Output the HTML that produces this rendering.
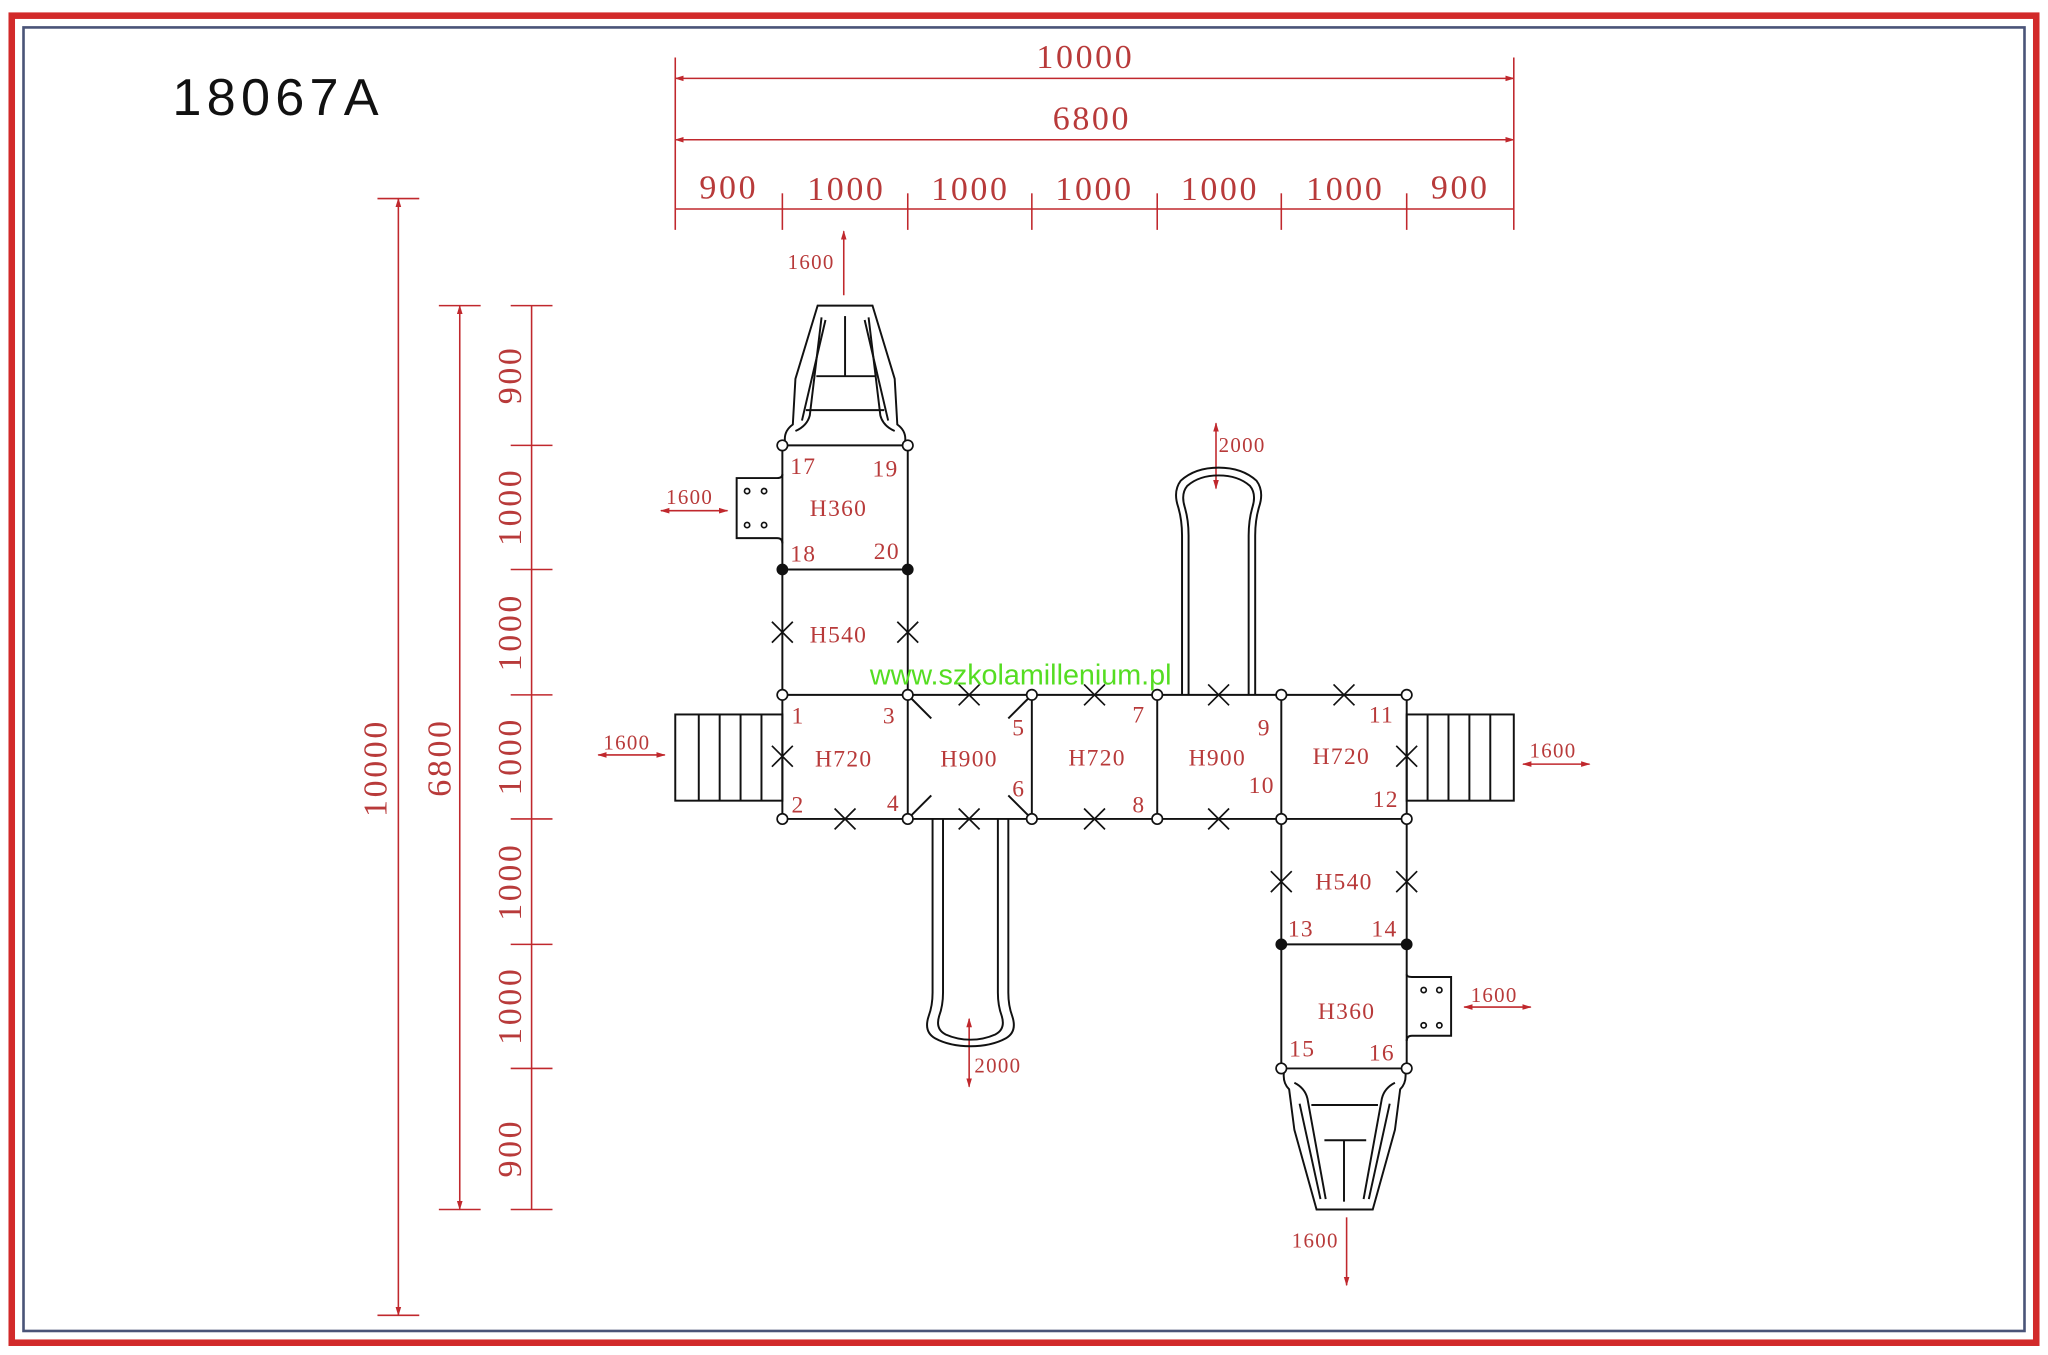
<!DOCTYPE html>
<html><head><meta charset="utf-8"><style>
html,body{margin:0;padding:0;background:#fff;}
svg{display:block;}
text{font-family:"Liberation Serif",serif;fill:#b83a3a;}
</style></head><body>
<svg width="2048" height="1355" viewBox="0 0 1568 1037.4" preserveAspectRatio="none" xmlns="http://www.w3.org/2000/svg">
<defs>
<marker id="a" viewBox="0 0 10 10" refX="9" refY="5" markerWidth="6" markerHeight="6" orient="auto-start-reverse"><path d="M0,2 L10,5 L0,8 z" fill="#c0282d"/></marker>
</defs>
<rect x="0" y="0" width="1568" height="1037.4" fill="#fff"/>
<rect x="9" y="12" width="1550" height="1016" fill="none" stroke="#d22a2a" stroke-width="5"/>
<rect x="18" y="21" width="1532" height="998" fill="none" stroke="#4a5478" stroke-width="2"/>
<text x="132" y="88" style="font-family:'Liberation Sans',sans-serif;fill:#111" font-size="40" letter-spacing="4">18067A</text>

<g stroke="#c0282d" stroke-width="1.2" fill="none">
<line x1="517" y1="60" x2="1159" y2="60" marker-start="url(#a)" marker-end="url(#a)"/>
<line x1="517" y1="107" x2="1159" y2="107" marker-start="url(#a)" marker-end="url(#a)"/>
<line x1="517" y1="160" x2="1159" y2="160"/>
<line x1="517" y1="44" x2="517" y2="176"/><line x1="1159" y1="44" x2="1159" y2="176"/>
<line x1="599" y1="148" x2="599" y2="176"/><line x1="695" y1="148" x2="695" y2="176"/><line x1="790" y1="148" x2="790" y2="176"/><line x1="886" y1="148" x2="886" y2="176"/><line x1="981" y1="148" x2="981" y2="176"/><line x1="1077" y1="148" x2="1077" y2="176"/>
<line x1="305" y1="152" x2="305" y2="1007" marker-start="url(#a)" marker-end="url(#a)"/>
<line x1="289" y1="152" x2="321" y2="152"/><line x1="289" y1="1007" x2="321" y2="1007"/>
<line x1="352" y1="234" x2="352" y2="926" marker-start="url(#a)" marker-end="url(#a)"/>
<line x1="336" y1="234" x2="368" y2="234"/><line x1="336" y1="926" x2="368" y2="926"/>
<line x1="407" y1="234" x2="407" y2="926"/>
<line x1="391" y1="234" x2="423" y2="234"/><line x1="391" y1="341" x2="423" y2="341"/><line x1="391" y1="436" x2="423" y2="436"/><line x1="391" y1="532" x2="423" y2="532"/><line x1="391" y1="627" x2="423" y2="627"/><line x1="391" y1="723" x2="423" y2="723"/><line x1="391" y1="818" x2="423" y2="818"/><line x1="391" y1="926" x2="423" y2="926"/>
<line x1="646" y1="226" x2="646" y2="177" marker-end="url(#a)"/>
<line x1="506" y1="391" x2="557" y2="391" marker-start="url(#a)" marker-end="url(#a)"/>
<line x1="458" y1="578" x2="509" y2="578" marker-start="url(#a)" marker-end="url(#a)"/>
<line x1="1166" y1="585" x2="1217" y2="585" marker-start="url(#a)" marker-end="url(#a)"/>
<line x1="1121" y1="771" x2="1172" y2="771" marker-start="url(#a)" marker-end="url(#a)"/>
<line x1="931" y1="324" x2="931" y2="374" marker-start="url(#a)" marker-end="url(#a)"/>
<line x1="742" y1="780" x2="742" y2="832" marker-start="url(#a)" marker-end="url(#a)"/>
<line x1="1031" y1="932" x2="1031" y2="984" marker-end="url(#a)"/>
</g>
<g font-size="26" text-anchor="middle" letter-spacing="2">
<text x="831" y="52">10000</text><text x="836" y="99">6800</text>
<text x="558" y="152">900</text><text x="648" y="153">1000</text><text x="743" y="153">1000</text><text x="838" y="153">1000</text><text x="934" y="153">1000</text><text x="1030" y="153">1000</text><text x="1118" y="152">900</text>
</g>
<g font-size="26" text-anchor="middle" letter-spacing="2">
<text transform="translate(296,588) rotate(-90)">10000</text>
<text transform="translate(345,580) rotate(-90)">6800</text>
<text transform="translate(399,287) rotate(-90)">900</text>
<text transform="translate(399,388) rotate(-90)">1000</text>
<text transform="translate(399,484) rotate(-90)">1000</text>
<text transform="translate(399,579) rotate(-90)">1000</text>
<text transform="translate(399,675) rotate(-90)">1000</text>
<text transform="translate(399,770) rotate(-90)">1000</text>
<text transform="translate(399,879) rotate(-90)">900</text>
</g>
<g font-size="16" letter-spacing="1">
<text x="603" y="206">1600</text><text x="510" y="386">1600</text><text x="462" y="574">1600</text>
<text x="1171" y="580">1600</text><text x="1126" y="767">1600</text><text x="933" y="346">2000</text>
<text x="746" y="821">2000</text><text x="989" y="955">1600</text>
</g>

<g stroke="#111" stroke-width="1.5" fill="none">
<line x1="599" y1="532" x2="1077" y2="532"/><line x1="599" y1="627" x2="1077" y2="627"/>
<line x1="599" y1="341" x2="599" y2="627"/><line x1="695" y1="341" x2="695" y2="627"/>
<line x1="790" y1="532" x2="790" y2="627"/><line x1="886" y1="532" x2="886" y2="627"/>
<line x1="981" y1="532" x2="981" y2="818"/><line x1="1077" y1="532" x2="1077" y2="818"/>
<line x1="599" y1="341" x2="695" y2="341"/><line x1="599" y1="436" x2="695" y2="436"/>
<line x1="981" y1="723" x2="1077" y2="723"/><line x1="981" y1="818" x2="1077" y2="818"/>
<line x1="695" y1="532" x2="713" y2="550"/><line x1="790" y1="532" x2="772" y2="550"/>
<line x1="695" y1="627" x2="713" y2="609"/><line x1="790" y1="627" x2="772" y2="609"/>
<rect x="517" y="547" width="82" height="66"/>
<line x1="535" y1="547" x2="535" y2="613"/><line x1="551" y1="547" x2="551" y2="613"/><line x1="567" y1="547" x2="567" y2="613"/><line x1="583" y1="547" x2="583" y2="613"/>
<rect x="1077" y="547" width="82" height="66"/>
<line x1="1093" y1="547" x2="1093" y2="613"/><line x1="1109" y1="547" x2="1109" y2="613"/><line x1="1125" y1="547" x2="1125" y2="613"/><line x1="1141" y1="547" x2="1141" y2="613"/>
<path d="M599,363 Q599,366 595,366 L564,366 L564,412 L595,412 Q599,412 599,416"/>
<path d="M1077,746 Q1077,748 1081,748 L1111,748 L1111,793 L1081,793 Q1077,793 1077,797"/>
<path d="M905,532 L905,410 Q905,398 902,388 Q898,376 904,368 Q915,358 933,358 Q951,358 962,368 Q968,376 964,388 Q961,398 961,410 L961,532"/>
<path d="M910,532 L910,410 Q910,398 907,388 Q904,378 909,372 Q918,364 933,364 Q948,364 957,372 Q962,378 959,388 Q956,398 956,410 L956,532"/>
<path d="M714,627 L714,760 Q714,770 711,778 Q707,790 716,795 Q727,801 743,801 Q759,801 770,795 Q779,790 775,778 Q772,770 772,760 L772,627"/>
<path d="M722,627 L722,760 Q722,770 719,778 Q716,788 724,792 Q733,796 743,796 Q753,796 762,792 Q770,788 767,778 Q764,770 764,760 L764,627"/>
<path d="M601,338 Q600,330 607,325 L609,290 L626,234 L668,234 L685,290 L687,325 Q694,330 693,338"/>
<path d="M609,330 Q618,326 620,318 L629,243"/><path d="M685,330 Q676,326 674,318 L665,243"/>
<path d="M614,322 L632,245"/><path d="M680,322 L662,245"/>
<line x1="647" y1="242" x2="647" y2="288"/><line x1="625" y1="288" x2="670" y2="288"/><line x1="617" y1="314" x2="677" y2="314"/>
<path d="M983,821 Q982,829 987,834 L991,865 L1008,926 L1051,926 L1068,865 L1072,834 Q1077,829 1076,821"/>
<path d="M991,829 Q999,833 1001,841 L1015,918"/><path d="M1068,829 Q1060,833 1058,841 L1044,918"/>
<path d="M995,845 L1011,918"/><path d="M1064,845 L1048,918"/>
<line x1="1029" y1="873" x2="1029" y2="920"/><line x1="1004" y1="846" x2="1055" y2="846"/><line x1="1014" y1="873" x2="1046" y2="873"/>
</g>
<g stroke="#111" stroke-width="1.3">
<path d="M591,476 l16,16 M607,476 l-16,16"/><path d="M687,476 l16,16 M703,476 l-16,16"/>
<path d="M591,571 l16,16 M607,571 l-16,16"/><path d="M1069,571 l16,16 M1085,571 l-16,16"/>
<path d="M734,524 l16,16 M750,524 l-16,16"/><path d="M830,524 l16,16 M846,524 l-16,16"/><path d="M925,524 l16,16 M941,524 l-16,16"/><path d="M1021,524 l16,16 M1037,524 l-16,16"/>
<path d="M639,619 l16,16 M655,619 l-16,16"/><path d="M734,619 l16,16 M750,619 l-16,16"/><path d="M830,619 l16,16 M846,619 l-16,16"/><path d="M925,619 l16,16 M941,619 l-16,16"/>
<path d="M973,667 l16,16 M989,667 l-16,16"/><path d="M1069,667 l16,16 M1085,667 l-16,16"/>
</g>
<g stroke="#111" stroke-width="1.3" fill="#fff">
<circle cx="599" cy="341" r="4"/><circle cx="695" cy="341" r="4"/>
<circle cx="599" cy="532" r="4"/><circle cx="695" cy="532" r="4"/><circle cx="790" cy="532" r="4"/><circle cx="886" cy="532" r="4"/><circle cx="981" cy="532" r="4"/><circle cx="1077" cy="532" r="4"/>
<circle cx="599" cy="627" r="4"/><circle cx="695" cy="627" r="4"/><circle cx="790" cy="627" r="4"/><circle cx="886" cy="627" r="4"/><circle cx="981" cy="627" r="4"/><circle cx="1077" cy="627" r="4"/>
<circle cx="981" cy="818" r="4"/><circle cx="1077" cy="818" r="4"/>
<circle cx="572" cy="376" r="2"/><circle cx="585" cy="376" r="2"/><circle cx="572" cy="402" r="2"/><circle cx="585" cy="402" r="2"/>
<circle cx="1090" cy="758" r="2"/><circle cx="1102" cy="758" r="2"/><circle cx="1090" cy="785" r="2"/><circle cx="1102" cy="785" r="2"/>
</g>
<g fill="#111"><circle cx="599" cy="436" r="4.5"/><circle cx="695" cy="436" r="4.5"/><circle cx="981" cy="723" r="4.5"/><circle cx="1077" cy="723" r="4.5"/></g>
<g font-size="18" letter-spacing="1">
<text x="620" y="395">H360</text><text x="620" y="492">H540</text>
<text x="624" y="587">H720</text><text x="720" y="587">H900</text><text x="818" y="586">H720</text><text x="910" y="586">H900</text><text x="1005" y="585">H720</text>
<text x="1007" y="681">H540</text><text x="1009" y="780">H360</text>
<text x="605" y="363">17</text><text x="668" y="365">19</text><text x="605" y="430">18</text><text x="669" y="428">20</text>
<text x="606" y="554">1</text><text x="676" y="554">3</text><text x="775" y="563">5</text><text x="867" y="553">7</text><text x="963" y="563">9</text><text x="1048" y="553">11</text>
<text x="606" y="622">2</text><text x="679" y="621">4</text><text x="775" y="610">6</text><text x="867" y="622">8</text><text x="956" y="607">10</text><text x="1051" y="618">12</text>
<text x="986" y="717">13</text><text x="1050" y="717">14</text><text x="987" y="809">15</text><text x="1048" y="812">16</text>
</g>
<text x="666" y="524" style="font-family:'Liberation Sans',sans-serif;fill:#55dd22" font-size="22">www.szkolamillenium.pl</text>
</svg>
</body></html>
